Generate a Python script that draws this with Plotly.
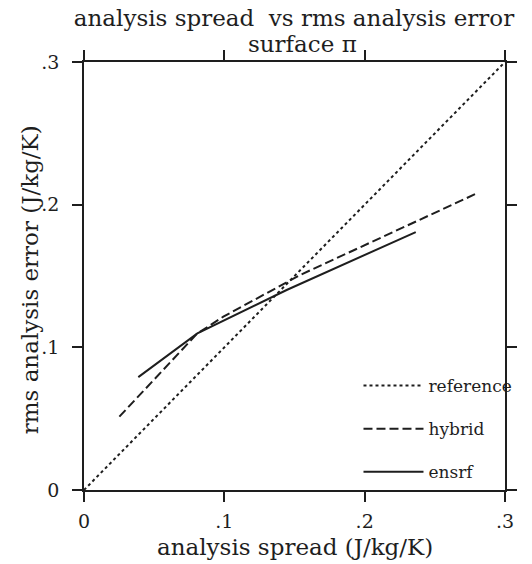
import plotly.graph_objects as go

# ---- data ----
reference_x = [0.0, 0.3]
reference_y = [0.0, 0.3]

hybrid_x = [0.0252, 0.0805, 0.0993, 0.1540, 0.2810]
hybrid_y = [0.0514, 0.1095, 0.1215, 0.1507, 0.2084]

ensrf_x = [0.0387, 0.0808, 0.1444, 0.2364]
ensrf_y = [0.0791, 0.1098, 0.1402, 0.1808]

tick_vals = [0.0, 0.1, 0.2, 0.3]
tick_text = ["0", ".1", ".2", ".3"]

FONT = "DejaVu Serif"
INK = "#1e1e1e"

fig = go.Figure()
fig.add_trace(go.Scatter(x=reference_x, y=reference_y, mode="lines", name="reference",
                         legendgroup="a",
                         line=dict(color=INK, width=2, dash="dot")))
fig.add_trace(go.Scatter(x=hybrid_x, y=hybrid_y, mode="lines", name="hybrid",
                         legendgroup="b",
                         line=dict(color=INK, width=2, dash="9px,4px")))
fig.add_trace(go.Scatter(x=ensrf_x, y=ensrf_y, mode="lines", name="ensrf",
                         legendgroup="c",
                         line=dict(color=INK, width=2)))

axis_common = dict(
    range=[0, 0.3], tickvals=tick_vals, ticktext=tick_text, automargin=False,
    showgrid=False, zeroline=False, showline=True, linecolor=INK, linewidth=1.5,
    mirror="ticks", ticks="outside", ticklen=10, tickwidth=1.5, tickcolor=INK,
    tickfont=dict(family=FONT, size=19, color=INK),
)

fig.update_layout(
    width=532, height=564,
    margin=dict(l=84, r=27, t=62, b=74, autoexpand=False),
    paper_bgcolor="white", plot_bgcolor="white",
    font=dict(family=FONT, color=INK),
    title=dict(text="analysis spread  vs rms analysis error",
               font=dict(family=FONT, size=23, color=INK), automargin=False,
               x=294 / 532, xanchor="center",
               y=1 - 18 / 564, yanchor="middle"),
    xaxis=dict(axis_common, ticklabelstandoff=3),
    yaxis=dict(axis_common, ticklabelstandoff=9),
    showlegend=True,
    legend=dict(x=0.652, y=0.285, xanchor="left", yanchor="top",
                bgcolor="rgba(0,0,0,0)", borderwidth=0,
                font=dict(family=FONT, size=17, color=INK),
                itemwidth=60, tracegroupgap=18, traceorder="grouped"),
    annotations=[
        dict(text="surface \u03c0", xref="paper", yref="paper",
             x=0.52, y=1, xanchor="center", yanchor="middle", yshift=18,
             showarrow=False, font=dict(family=FONT, size=23, color=INK)),
        dict(text="analysis spread (J/kg/K)", xref="paper", yref="paper",
             x=0.5, y=0, xanchor="center", yanchor="middle", yshift=-57,
             showarrow=False, font=dict(family=FONT, size=23, color=INK)),
        dict(text="rms analysis error (J/kg/K)", xref="paper", yref="paper",
             x=0, y=0.49, xanchor="center", yanchor="middle", xshift=-54,
             textangle=-90, showarrow=False,
             font=dict(family=FONT, size=23, color=INK)),
    ],
)

fig.write_html("out.html")
